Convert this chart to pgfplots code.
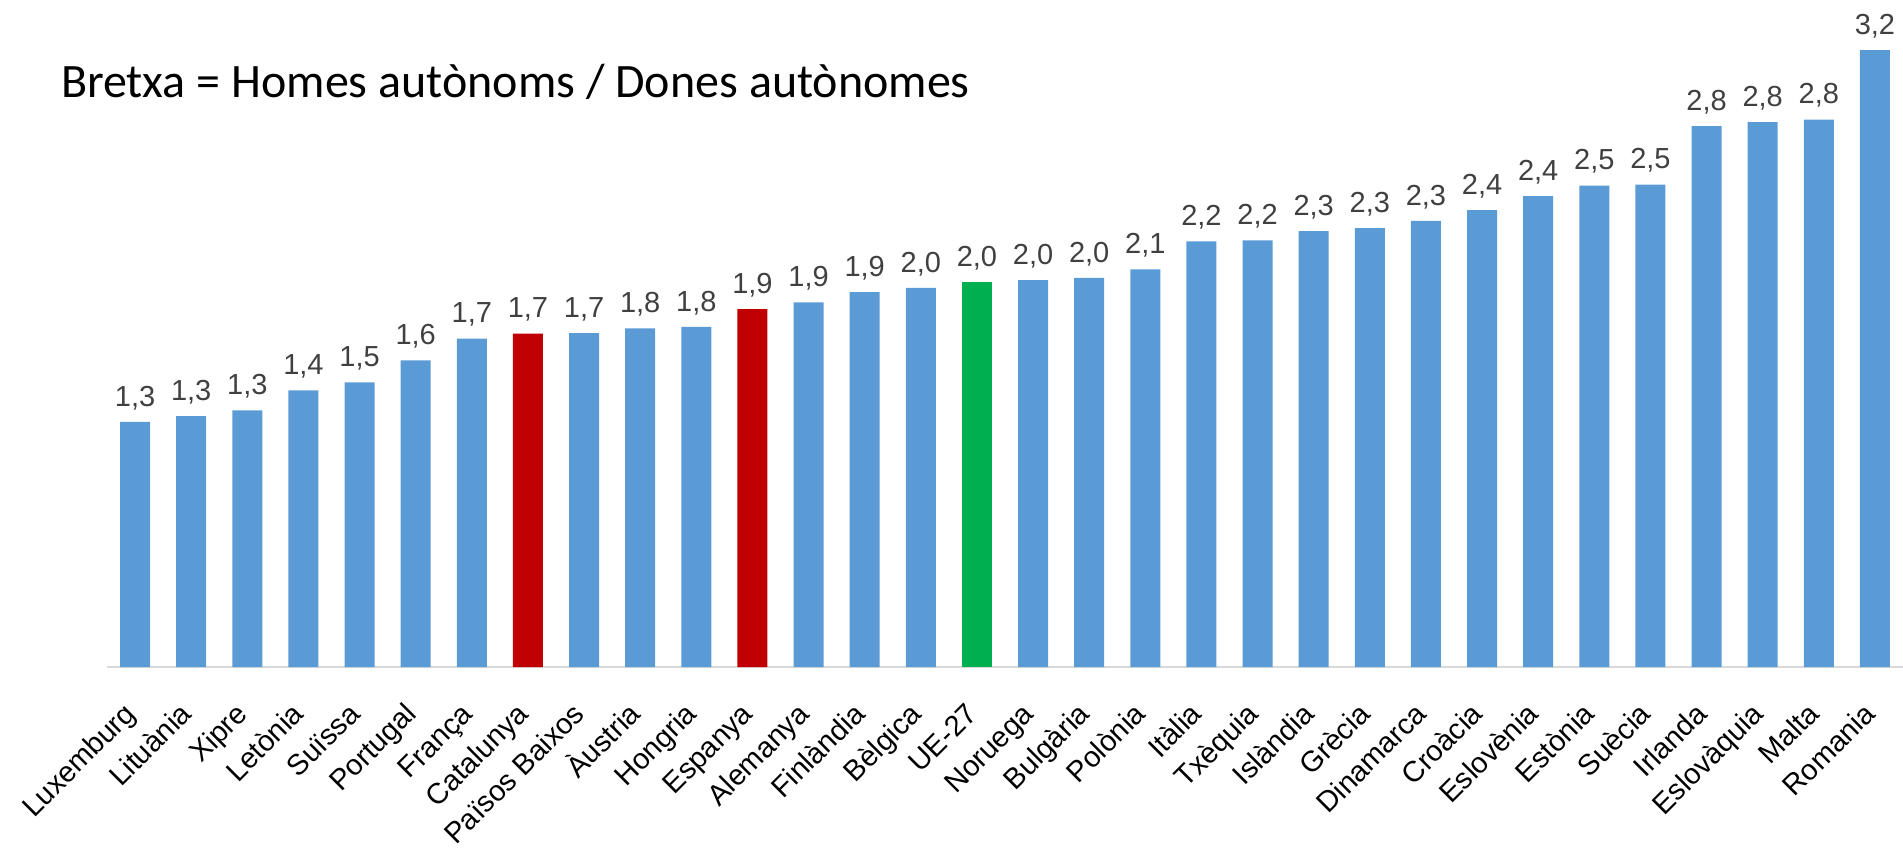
\documentclass[border=0pt]{standalone}
\usepackage{pgfplots}
\pgfplotsset{compat=1.18}
\usepackage{fontspec}
\setmainfont{Liberation Sans}
\newfontfamily\carlito{Carlito}
\definecolor{barblue}{HTML}{5B9BD5}
\definecolor{barred}{HTML}{C00000}
\definecolor{bargreen}{HTML}{00B050}
\definecolor{lbl}{HTML}{404040}
\definecolor{axgray}{HTML}{D9D9D9}
\begin{document}
\begin{tikzpicture}
\begin{axis}[
  name=ax,
  scale only axis,
  width=898pt, height=333.5pt,
  xmin=-0.5, xmax=31.5,
  ymin=0, ymax=3.46,
  axis x line*=bottom,
  axis y line=none,
  x axis line style={draw=axgray, line width=1pt},
  xtick={0,...,31},
  xtick style={draw=none},
  ytick=\empty,
  xticklabels={Luxemburg,Lituània,Xipre,Letònia,Suïssa,Portugal,França,Catalunya,Països Baixos,Àustria,Hongria,Espanya,Alemanya,Finlàndia,Bèlgica,UE-27,Noruega,Bulgària,Polònia,Itàlia,Txèquia,Islàndia,Grècia,Dinamarca,Croàcia,Eslovènia,Estònia,Suècia,Irlanda,Eslovàquia,Malta,Romania},
  xticklabel shift=17.5pt,
  xticklabel style={font=\fontsize{14.5}{17}\selectfont, rotate=45, anchor=east, inner sep=1pt, text height=0.72em, text depth=0.21em},
  ybar, bar width=15pt, bar shift=0pt,
  clip=false,
  nodes near coords,
  every node near coord/.append style={font=\fontsize{14.5}{17}\selectfont, text=lbl, anchor=south, yshift=2.5pt},
  /pgf/number format/.cd, fixed, fixed zerofill, precision=1, use comma, assume math mode=true,
]
\addplot[fill=barblue, draw=none] coordinates {
(0,1.272) (1,1.302) (2,1.331) (3,1.435) (4,1.477) (5,1.591) (6,1.703)
(8,1.732) (9,1.757) (10,1.764) (12,1.891) (13,1.945) (14,1.967)
(16,2.007) (17,2.019) (18,2.063) (19,2.208) (20,2.213) (21,2.261) (22,2.277)
(23,2.314) (24,2.370) (25,2.443) (26,2.497) (27,2.502) (28,2.806) (29,2.827)
(30,2.839) (31,3.200)};
\addplot[fill=barred, draw=none] coordinates {(7,1.729) (11,1.857)};
\addplot[fill=bargreen, draw=none] coordinates {(15,1.997)};
\end{axis}
\node[anchor=base west, inner sep=0pt, font=\carlito\fontsize{24}{28}\selectfont] at ([xshift=-23.2pt,yshift=-49pt]ax.north west) {Bretxa = Homes autònoms / Dones autònomes};
\pgfresetboundingbox
\path[use as bounding box] ([xshift=-53.5pt]ax.north west) rectangle ([yshift=-91.5pt]ax.south east);
\end{tikzpicture}
\end{document}
